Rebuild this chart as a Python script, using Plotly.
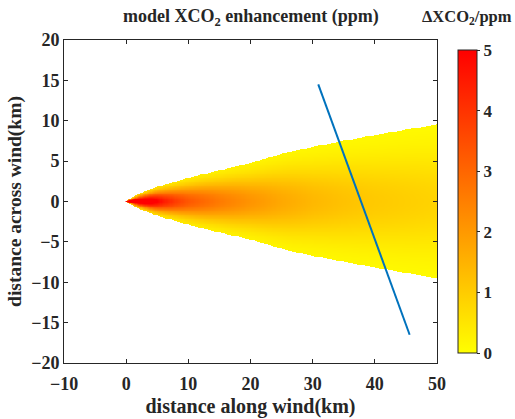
import numpy as np
import plotly.graph_objects as go

# ---- values ----
# centreline enhancement (ppm) along the wind
along_x = [0.0, 0.5, 2, 4, 6, 8, 10, 12, 15, 20, 25, 30, 35, 40, 45, 50]
center_ppm = [6.0, 6.0, 6.0, 5.5, 4.5, 3.8, 3.3, 3.0, 2.6, 2.1, 1.7, 1.4, 1.2, 1.05, 0.95, 0.85]
# plume half width (km) where the field is cut off
edge_x = [0.0, 0.5, 2, 5, 10, 12, 15, 20, 26, 30, 35, 40, 45, 50]
edge_half = [0.05, 0.3, 0.9, 1.8, 2.9, 3.3, 3.85, 4.75, 6.1, 6.75, 7.5, 8.2, 8.9, 9.5]
# satellite track
track_x = [30.9, 45.6]
track_y = [14.5, -16.5]

cbar_ticks = [0, 1, 2, 3, 4, 5]
x_ticks = [-10, 0, 10, 20, 30, 40, 50]
y_ticks = [-20, -15, -10, -5, 0, 5, 10, 15, 20]

# ---- build the field ----
gx = np.arange(0, 50.001, 0.2)
gy = np.arange(-10, 10.001, 0.1)
c0 = np.interp(gx, along_x, center_ppm)
hw = np.interp(gx, edge_x, edge_half)
sig = hw / 2.1
X, Y = np.meshgrid(gx, gy)
Z = c0[None, :] * np.exp(-(Y ** 2) / (2 * sig[None, :] ** 2))
Z[np.abs(Y) > hw[None, :]] = np.nan
Z = np.round(Z, 3)

font = "Liberation Serif, Times New Roman, serif"
dark = "#262626"

fig = go.Figure()
fig.add_trace(go.Heatmap(
    x=gx, y=gy, z=Z,
    colorscale=[[0, "#FFFF00"], [1, "#FF0000"]],
    zmin=0, zmax=5,
    hoverongaps=False,
    colorbar=dict(
        thickness=19, len=1.0, lenmode="fraction", y=0.5, yanchor="middle",
        x=1.056, xanchor="left", xpad=0,
        outlinecolor=dark, outlinewidth=1,
        tickvals=cbar_ticks, ticks="outside", ticklen=3, tickcolor=dark,
        tickfont=dict(family=font, size=17, color=dark, weight="bold"),
    ),
))
fig.add_trace(go.Scatter(
    x=track_x, y=track_y, mode="lines",
    line=dict(color="#0072BD", width=2), showlegend=False,
))

axis_common = dict(
    showline=True, linecolor=dark, linewidth=1, mirror="ticks",
    ticks="inside", ticklen=4, tickcolor=dark, showgrid=False, zeroline=False,
    automargin=False,
    tickfont=dict(family=font, size=18, color=dark, weight="bold"),
)
fig.update_xaxes(range=[-10, 50], tickvals=x_ticks, ticklabelstandoff=4, **axis_common,
                 title=dict(text="distance along wind(km)", standoff=6,
                            font=dict(family=font, size=20, color=dark, weight="bold")))
fig.update_yaxes(range=[-20, 20], tickvals=y_ticks, **axis_common,
                 title=dict(text="distance across wind(km)", standoff=4,
                            font=dict(family=font, size=19.5, color=dark, weight="bold")))

pw = 515 - 64 - 78
ph = 419 - 40 - 56
fig.update_layout(
    width=515, height=419,
    margin=dict(l=64, r=78, t=40, b=56, autoexpand=False),
    plot_bgcolor="white", paper_bgcolor="white",
    showlegend=False,
    annotations=[
        dict(text="model XCO<sub>2</sub> enhancement (ppm)", xref="paper", yref="paper",
             x=0.5, y=1 + (40 - 17) / ph, xanchor="center", yanchor="middle",
             showarrow=False,
             font=dict(family=font, size=18, color=dark, weight="bold")),
        dict(text="ΔXCO<sub>2</sub>/ppm", xref="paper", yref="paper",
             x=(467 - 64) / pw, y=1 + (40 - 17) / ph,
             xanchor="center", yanchor="middle", showarrow=False,
             font=dict(family=font, size=16.5, color=dark, weight="bold")),
    ],
)

fig.write_html("out.html")
